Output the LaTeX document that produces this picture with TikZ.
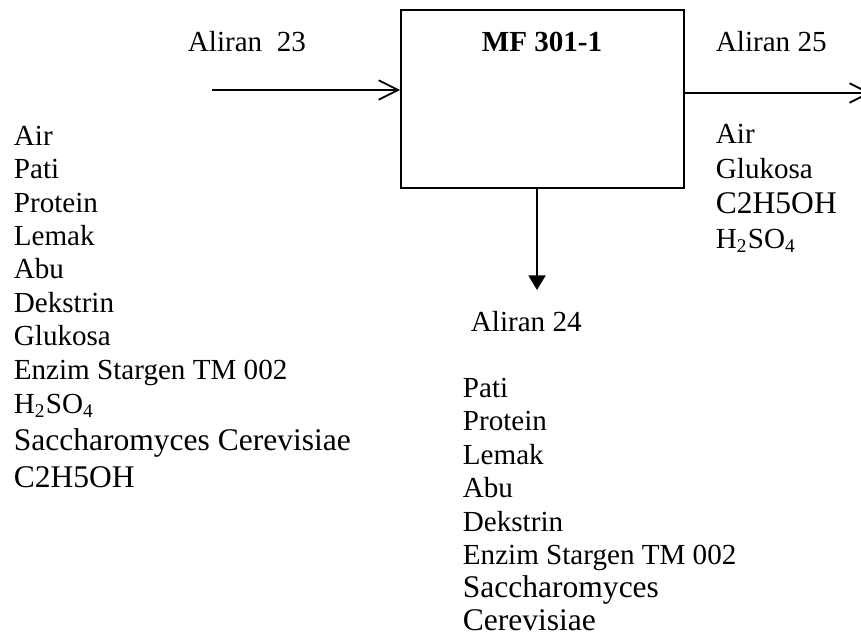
\documentclass[tikz,border=0pt]{standalone}
\usepackage{fontspec}
\setmainfont{Liberation Serif}
\usetikzlibrary{arrows.meta, positioning}

\begin{document}
\begin{tikzpicture}[
        x=0.41237pt,
        y=-0.41237pt,
        line width=0.75pt,
        every node/.style={font=\fontsize{12}{13.8}\selectfont, inner sep=0pt},
        item/.style={anchor=base west},
        big/.style={font=\fontsize{13}{15}\selectfont},
        unit/.style={draw, line width=0.75pt, minimum width=116.7pt, minimum height=73.4pt},
        open/.style={-{Straight Barb[length=8pt, width=8pt]}},
        solid/.style={-{Triangle[length=6pt, width=7pt]}}
    ]
    \useasboundingbox (0,0) rectangle (861,641);

    \node[unit] (mf) at (542.5,99) {};
    \node[anchor=base, font=\fontsize{12}{13.8}\selectfont\bfseries] (title) at (542,52) {MF 301-1};

    \coordinate (in23) at (212,90);
    \coordinate (out25) at (871,93);
    \coordinate (out24) at (537,290);

    \draw[open] (in23) -- (in23 -| mf.west);
    \draw[open] (out25 -| mf.east) -- (out25);
    \draw[solid] (out24 |- mf.south) -- (out24);

    % aliran masuk
    \node[item] (a23) at (187,52) {Aliran\ \ 23};
    \node[item] (l1) at (13,145) {Air};
    \node[item] (l2) at (13,178) {Pati};
    \node[item] (l3) at (13,212) {Protein};
    \node[item] (l4) at (13,245) {Lemak};
    \node[item] (l5) at (13,278) {Abu};
    \node[item] (l6) at (13,312) {Dekstrin};
    \node[item] (l7) at (13,345) {Glukosa};
    \node[item] (l8) at (13,379) {Enzim Stargen TM 002};
    \node[item] (l9) at (13,413) {H\textsubscript{2}SO\textsubscript{4}};
    \node[item, big] (l10) at (13,450) {Saccharomyces Cerevisiae};
    \node[item, big] (l11) at (13,487) {C2H5OH};

    % aliran keluar atas
    \node[item] (a25) at (715,52) {Aliran 25};
    \node[item] (r1) at (715,143) {Air};
    \node[item] (r2) at (715,178) {Glukosa};
    \node[item, big] (r3) at (715,213) {C2H5OH};
    \node[item] (r4) at (715,248) {H\textsubscript{2}SO\textsubscript{4}};

    % aliran keluar bawah
    \node[item] (a24) at (470,331) {Aliran 24};
    \node[item] (b1) at (462,397) {Pati};
    \node[item] (b2) at (462,430) {Protein};
    \node[item] (b3) at (462,464) {Lemak};
    \node[item] (b4) at (462,497) {Abu};
    \node[item] (b5) at (462,531) {Dekstrin};
    \node[item] (b6) at (462,564) {Enzim Stargen TM 002};
    \node[item, big] (b7) at (462,597) {Saccharomyces};
    \node[item, big] (b8) at (462,630) {Cerevisiae};
\end{tikzpicture}
\end{document}
